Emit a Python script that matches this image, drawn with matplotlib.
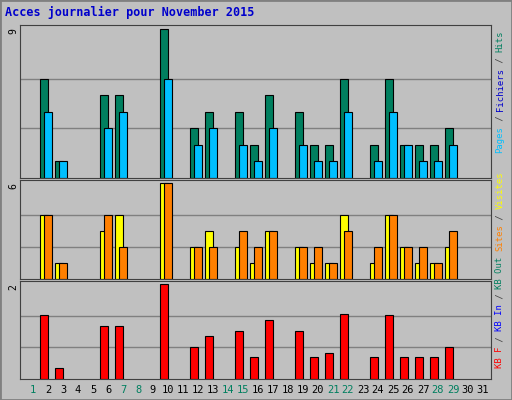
import matplotlib
matplotlib.use("Agg")
import matplotlib.pyplot as plt
from matplotlib.patches import Rectangle

days = list(range(1, 32))
weekend = [1, 7, 8, 14, 15, 21, 22, 28, 29]
hits = [0,6,1,0,0,5,5,0,0,9,0,3,4,0,4,2,5,0,4,2,2,6,0,2,6,2,2,2,3,0,0]
pages = [0,4,1,0,0,3,4,0,0,6,0,2,3,0,2,1,3,0,2,1,1,4,0,1,4,2,1,1,2,0,0]
visits = [0,4,1,0,0,3,4,0,0,6,0,2,3,0,2,1,3,0,2,1,1,4,0,1,4,2,1,1,2,0,0]
sites = [0,4,1,0,0,4,2,0,0,6,0,2,2,0,3,2,3,0,2,2,1,3,0,2,4,2,2,1,3,0,0]
kb = [0,1.34,0.24,0,0,1.12,1.12,0,0,2.0,0,0.68,0.90,0,1.01,0.46,1.23,0,1.01,0.46,0.55,1.36,0,0.46,1.34,0.46,0.46,0.46,0.68,0,0]

W, H = 512, 400
fig = plt.figure(figsize=(5.12, 4.0), dpi=100, facecolor="#C0C0C0")
fig.patches.append(Rectangle((0, 0), 1, 1, transform=fig.transFigure, fill=False,
                             edgecolor="#808080", lw=2))
mono = "DejaVu Sans Mono"

def ax_px(top, bottom):
    return fig.add_axes([20 / W, 1 - bottom / H, 471 / W, (bottom - top) / H])

panels = [
    (25, 178, 9, [(hits, -0.27, "#007F5F"), (pages, 0.0, "#00BFFF")], [3, 6], "9"),
    (180, 279, 6, [(visits, -0.27, "#FFFF00"), (sites, 0.0, "#FF8000")], [2, 4], "6"),
    (281, 379, 2, [(kb, -0.27, "#FF0000")], [0.667, 1.333], "2"),
]
for top, bot, mx, series, grids, lab in panels:
    ax = ax_px(top, bot)
    ax.set_facecolor("#C0C0C0")
    for g in grids:
        ax.axhline(g, color="#808080", lw=1, zorder=0)
    for vals, off, col in series:
        xs = [d + off for d in days if vals[d - 1] > 0]
        ys = [v for v in vals if v > 0]
        ax.bar(xs, ys, width=0.5, color=col, edgecolor="black", linewidth=0.8, zorder=2)
    ax.set_xlim(0.13, 31.53)
    ax.set_ylim(0, mx * 1.03)
    ax.set_xticks([]); ax.set_yticks([])
    for s in ax.spines.values():
        s.set_color("#404040")
    fig.text(13 / W, 1 - (top + 6) / H, lab, rotation=90, ha="center", va="center",
             fontsize=7, family=mono)

fig.text(5 / W, 1 - 12 / H, "Acces journalier pour November 2015", color="#0000CC",
         fontsize=8.5, fontweight="bold", family=mono, va="center", ha="left")

for d in days:
    x = 33 + 15 * (d - 1)
    fig.text(x / W, 1 - 390 / H, str(d), ha="center", va="center", fontsize=7.5,
             family=mono, color="#007F5F" if d in weekend else "black")

def vstack(pieces, y0, x=500, adv=5.3):
    y = y0
    for t, c in pieces:
        fig.text(x / W, 1 - y / H, t, rotation=90, rotation_mode="anchor", ha="left",
                 va="center", fontsize=6.4, family=mono, color=c)
        y -= adv * len(t)

vstack([("KB F", "#FF0000"), (" / ", "#404040"), ("KB In", "#0000FF"), (" / ", "#404040"),
        ("KB Out", "#007F5F"), (" ", "k"), ("Sites", "#FF8000"), (" / ", "#404040"),
        ("Visites", "#FFFF00")], 368)
vstack([("Pages", "#00BFFF"), (" / ", "#404040"), ("Fichiers", "#0000CC"),
        (" / ", "#404040"), ("Hits", "#007F5F")], 153)

fig.savefig("out.png", dpi=100, facecolor=fig.get_facecolor())
